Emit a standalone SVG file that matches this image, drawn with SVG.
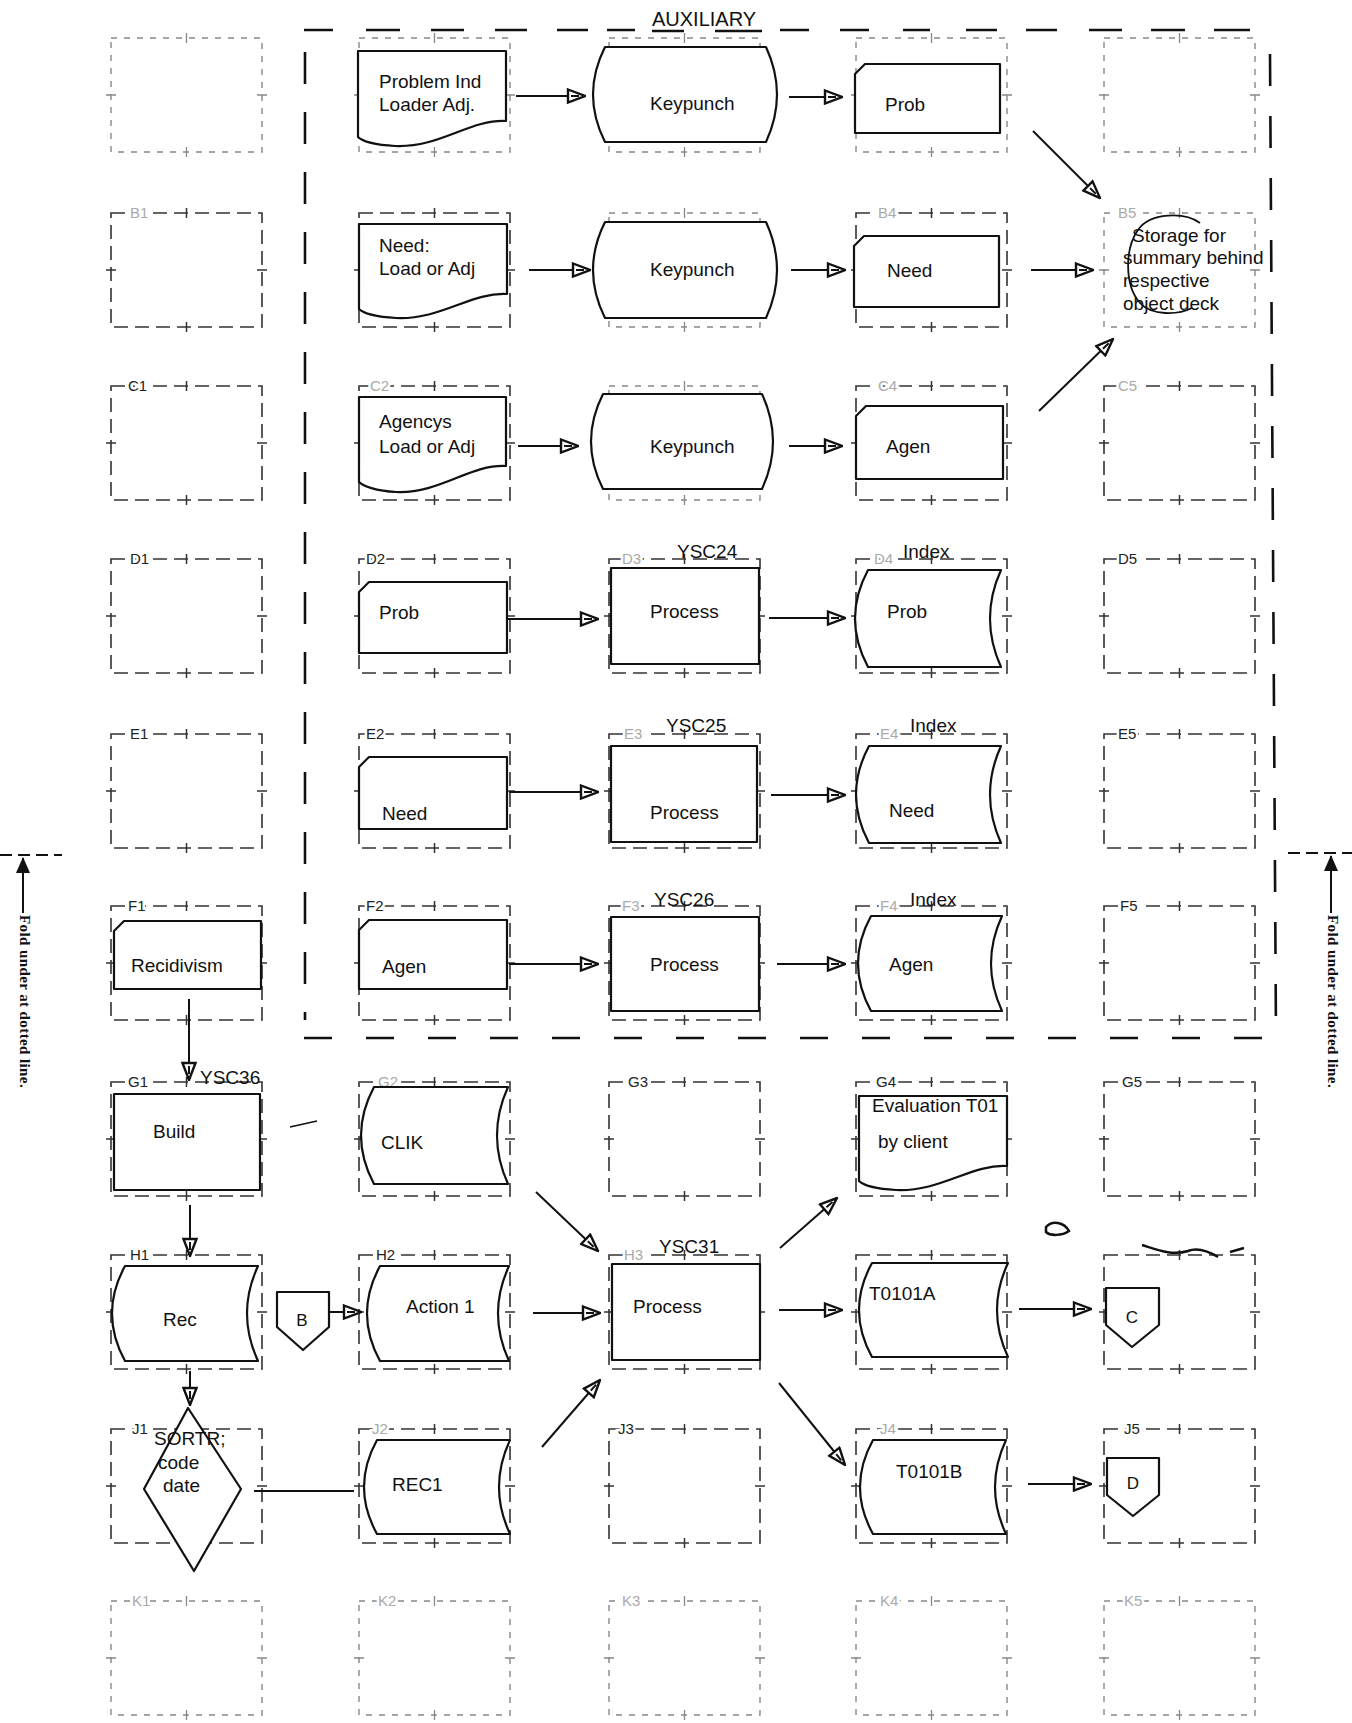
<svg xmlns="http://www.w3.org/2000/svg" width="1352" height="1723" viewBox="0 0 1352 1723">
<style>
.s{fill:#fff;stroke:#111;stroke-width:2.2;stroke-linejoin:round}
.t{font-family:"Liberation Sans",Arial,sans-serif;font-size:19px;fill:#111}
.lb{font-family:"Liberation Sans",Arial,sans-serif;font-size:15px;fill:#222;stroke:#fff;stroke-width:5px;paint-order:stroke}
.lf{font-family:"Liberation Sans",Arial,sans-serif;font-size:15px;fill:#aaa;stroke:#fff;stroke-width:5px;paint-order:stroke}
.gr{fill:none;stroke:#333;stroke-width:1.6;stroke-dasharray:14 7}
.grf{fill:none;stroke:#888;stroke-width:1.4;stroke-dasharray:6 7}
.gt{fill:none;stroke:#333;stroke-width:1.5}
.gtf{fill:none;stroke:#888;stroke-width:1.3}
.c{fill:none;stroke:#111;stroke-width:2;marker-end:url(#ah)}
.cn{fill:none;stroke:#111;stroke-width:2}
.aux{fill:none;stroke:#111;stroke-width:2.6}
.fold{font-family:"Liberation Serif","Times New Roman",serif;font-size:15px;font-weight:bold;fill:#111;letter-spacing:0.4px}
</style>
<defs>
<marker id="ah" viewBox="0 0 20 16" refX="19" refY="8" markerWidth="20" markerHeight="16" markerUnits="userSpaceOnUse" orient="auto">
<path d="M2,1.5 L19,8 L2,14.5 Z" fill="#fff" stroke="#111" stroke-width="2.4" stroke-linejoin="miter"/>
<path d="M5,8 H13" stroke="#111" stroke-width="2"/>
</marker>
<marker id="af" viewBox="0 0 16 14" refX="15" refY="7" markerWidth="16" markerHeight="14" markerUnits="userSpaceOnUse" orient="auto">
<path d="M0,0 L16,7 L0,14 Z" fill="#111"/>
</marker>
<g id="gbox"><rect width="151" height="114" class="gr"/><path class="gt" d="M75.5,-5V5M75.5,109V119M-5,57H5M146,57H156"/></g>
<g id="gboxf"><rect width="151" height="114" class="grf"/><path class="gtf" d="M75.5,-5V5M75.5,109V119M-5,57H5M146,57H156"/></g>
</defs>
<rect width="1352" height="1723" fill="#fff"/>

<g id="grid">
<use href="#gboxf" x="111" y="38"/><use href="#gboxf" x="359" y="38"/><use href="#gboxf" x="609" y="38"/><use href="#gboxf" x="856" y="38"/><use href="#gboxf" x="1104" y="38"/>
<use href="#gbox" x="111" y="213"/><use href="#gbox" x="359" y="213"/><use href="#gboxf" x="609" y="213"/><use href="#gbox" x="856" y="213"/><use href="#gboxf" x="1104" y="213"/>
<use href="#gbox" x="111" y="386"/><use href="#gbox" x="359" y="386"/><use href="#gboxf" x="609" y="386"/><use href="#gbox" x="856" y="386"/><use href="#gbox" x="1104" y="386"/>
<use href="#gbox" x="111" y="559"/><use href="#gbox" x="359" y="559"/><use href="#gbox" x="609" y="559"/><use href="#gbox" x="856" y="559"/><use href="#gbox" x="1104" y="559"/>
<use href="#gbox" x="111" y="734"/><use href="#gbox" x="359" y="734"/><use href="#gbox" x="609" y="734"/><use href="#gbox" x="856" y="734"/><use href="#gbox" x="1104" y="734"/>
<use href="#gbox" x="111" y="906"/><use href="#gbox" x="359" y="906"/><use href="#gbox" x="609" y="906"/><use href="#gbox" x="856" y="906"/><use href="#gbox" x="1104" y="906"/>
<use href="#gbox" x="111" y="1082"/><use href="#gbox" x="359" y="1082"/><use href="#gbox" x="609" y="1082"/><use href="#gbox" x="856" y="1082"/><use href="#gbox" x="1104" y="1082"/>
<use href="#gbox" x="111" y="1255"/><use href="#gbox" x="359" y="1255"/><use href="#gbox" x="609" y="1255"/><use href="#gbox" x="856" y="1255"/><use href="#gbox" x="1104" y="1255"/>
<use href="#gbox" x="111" y="1429"/><use href="#gbox" x="359" y="1429"/><use href="#gbox" x="609" y="1429"/><use href="#gbox" x="856" y="1429"/><use href="#gbox" x="1104" y="1429"/>
<use href="#gboxf" x="111" y="1601"/><use href="#gboxf" x="359" y="1601"/><use href="#gboxf" x="609" y="1601"/><use href="#gboxf" x="856" y="1601"/><use href="#gboxf" x="1104" y="1601"/>
</g>

<g id="grid-labels">
<text class="lf" x="130" y="218">B1</text><text class="lf" x="878" y="218">B4</text><text class="lf" x="1118" y="218">B5</text>
<text class="lb" x="128" y="391">C1</text><text class="lf" x="370" y="391">C2</text><text class="lf" x="878" y="391">C4</text><text class="lf" x="1118" y="391">C5</text>
<text class="lb" x="130" y="564">D1</text><text class="lb" x="366" y="564">D2</text><text class="lf" x="622" y="564">D3</text><text class="lf" x="874" y="564">D4</text><text class="lb" x="1118" y="564">D5</text>
<text class="lb" x="130" y="739">E1</text><text class="lb" x="366" y="739">E2</text><text class="lf" x="624" y="739">E3</text><text class="lf" x="880" y="739">E4</text><text class="lb" x="1118" y="739">E5</text>
<text class="lb" x="128" y="911">F1</text><text class="lb" x="366" y="911">F2</text><text class="lf" x="622" y="911">F3</text><text class="lf" x="880" y="911">F4</text><text class="lb" x="1120" y="911">F5</text>
<text class="lb" x="128" y="1087">G1</text><text class="lf" x="378" y="1087">G2</text><text class="lb" x="628" y="1087">G3</text><text class="lb" x="876" y="1087">G4</text><text class="lb" x="1122" y="1087">G5</text>
<text class="lb" x="130" y="1260">H1</text><text class="lb" x="376" y="1260">H2</text><text class="lf" x="624" y="1260">H3</text>
<text class="lb" x="132" y="1434">J1</text><text class="lf" x="372" y="1434">J2</text><text class="lb" x="618" y="1434">J3</text><text class="lf" x="880" y="1434">J4</text><text class="lb" x="1124" y="1434">J5</text>
<text class="lf" x="132" y="1606">K1</text><text class="lf" x="378" y="1606">K2</text><text class="lf" x="622" y="1606">K3</text><text class="lf" x="880" y="1606">K4</text><text class="lf" x="1124" y="1606">K5</text>
</g>

<g id="auxiliary">
<path class="aux" d="M304,30H333M366,30H400M431,30H464M495,30H527M557,30H588M607,30H635M652,31H684M715,31H762M780,30H809M840,30H869M903,30H930M966,30H997M1026,30H1057M1089,30H1122M1151,30H1185M1214,30H1250"/>
<path class="aux" d="M305,52V1020" stroke-dasharray="32 28"/>
<path class="aux" d="M1270,54L1276,1037" stroke-dasharray="32 30"/>
<path class="aux" d="M304,1038H1277" stroke-dasharray="28 34"/>
<text class="t" x="652" y="26" style="font-size:20px">AUXILIARY</text>
</g>

<g id="fold-left">
<path d="M0,855H62" stroke="#111" stroke-width="2.2" stroke-dasharray="12 6"/>
<path d="M23,913V858" stroke="#111" stroke-width="2" marker-end="url(#af)"/>
<text class="fold" transform="translate(20,915) rotate(90)">Fold under at dotted line.</text>
</g>
<g id="fold-right">
<path d="M1288,853H1352" stroke="#111" stroke-width="2.2" stroke-dasharray="12 6"/>
<path d="M1331,913V856" stroke="#111" stroke-width="2" marker-end="url(#af)"/>
<text class="fold" transform="translate(1328,915) rotate(90)">Fold under at dotted line.</text>
</g>

<g id="connectors">
<path class="c" d="M516,96H585"/>
<path class="c" d="M789,97H842"/>
<path class="c" d="M529,270H590"/>
<path class="c" d="M791,270H845"/>
<path class="c" d="M518,446H578"/>
<path class="c" d="M789,446H842"/>
<path class="c" d="M1033,131L1100,198"/>
<path class="c" d="M1031,270H1093"/>
<path class="c" d="M1039,411L1113,339"/>
<path class="c" d="M504,619H598"/>
<path class="c" d="M769,618H845"/>
<path class="c" d="M509,792H598"/>
<path class="c" d="M771,795H845"/>
<path class="c" d="M509,964H598"/>
<path class="c" d="M777,964H845"/>
<path class="c" d="M189,999V1080"/>
<path class="c" d="M190,1205V1256"/>
<path class="c" d="M190,1371V1405"/>
<path class="c" d="M329,1312H361"/>
<path class="c" d="M533,1313H600"/>
<path class="c" d="M536,1192L598,1251"/>
<path class="c" d="M542,1447L600,1380"/>
<path class="cn" d="M354,1491H254"/>
<path class="c" d="M780,1248L837,1198"/>
<path class="c" d="M779,1310H842"/>
<path class="c" d="M779,1383L845,1465"/>
<path class="c" d="M1019,1309H1091"/>
<path class="c" d="M1028,1484H1091"/>
</g>

<g id="A2"><path class="s" d="M358,51H506V121C470,119 440,148 395,146C375,145 362,141 358,137Z"/><text class="t" x="379" y="88">Problem Ind</text><text class="t" x="379" y="111">Loader Adj.</text></g>
<g id="A3"><path class="s" d="M605,47H766Q788,94.5 766,142H605Q581,94.5 605,47Z"/><text class="t" x="650" y="110">Keypunch</text></g>
<g id="A4"><path class="s" d="M855,74L865,64H1000V133H855Z"/><text class="t" x="885" y="111">Prob</text></g>

<g id="B2"><path class="s" d="M359,224H507V294C471,292 441,320 396,318C376,317 363,313 359,309Z"/><text class="t" x="379" y="252">Need:</text><text class="t" x="379" y="275">Load or Adj</text></g>
<g id="B3"><path class="s" d="M605,222H766Q788,270 766,318H605Q581,270 605,222Z"/><text class="t" x="650" y="276">Keypunch</text></g>
<g id="B4"><path class="s" d="M854,246L864,236H999V307H854Z"/><text class="t" x="887" y="277">Need</text></g>

<g id="C2"><path class="s" d="M359,397H506V466C470,464 440,494 396,492C376,491 363,486 359,482Z"/><text class="t" x="379" y="428">Agencys</text><text class="t" x="379" y="453">Load or Adj</text></g>
<g id="C3"><path class="s" d="M603,394H762Q784,441.5 762,489H603Q579,441.5 603,394Z"/><text class="t" x="650" y="453">Keypunch</text></g>
<g id="C4"><path class="s" d="M856,416L866,406H1003V479H856Z"/><text class="t" x="886" y="453">Agen</text></g>

<g id="B5-storage">
<path d="M1200,223C1185,212 1150,212 1138,230C1125,248 1124,285 1140,303C1152,316 1178,315 1192,308" fill="none" stroke="#111" stroke-width="1.8"/>
<text class="t" x="1132" y="242">Storage for</text>
<text class="t" x="1123" y="264">summary behind</text>
<text class="t" x="1123" y="287">respective</text>
<text class="t" x="1123" y="310">object deck</text>
</g>

<g id="D2"><path class="s" d="M359,592L369,582H507V653H359Z"/><text class="t" x="379" y="619">Prob</text></g>
<g id="D3"><rect class="s" x="611" y="568" width="148" height="96"/><text class="t" x="677" y="558">YSC24</text><text class="t" x="650" y="618">Process</text></g>
<g id="D4"><path class="s" d="M868,570H1001Q979,618.5 1001,667H868Q842,618.5 868,570Z"/><text class="t" x="903" y="558">Index</text><text class="t" x="887" y="618">Prob</text></g>

<g id="E2"><path class="s" d="M359,767L369,757H507V829H359Z"/><text class="t" x="382" y="820">Need</text></g>
<g id="E3"><rect class="s" x="611" y="746" width="146" height="96"/><text class="t" x="666" y="732">YSC25</text><text class="t" x="650" y="819">Process</text></g>
<g id="E4"><path class="s" d="M869,746H1001Q979,794.5 1001,843H869Q843,794.5 869,746Z"/><text class="t" x="910" y="732">Index</text><text class="t" x="889" y="817">Need</text></g>

<g id="F1"><path class="s" d="M114,931L124,921H261V989H114Z"/><text class="t" x="131" y="972">Recidivism</text></g>
<g id="F2"><path class="s" d="M359,930L369,920H507V989H359Z"/><text class="t" x="382" y="973">Agen</text></g>
<g id="F3"><rect class="s" x="611" y="917" width="148" height="94"/><text class="t" x="654" y="906">YSC26</text><text class="t" x="650" y="971">Process</text></g>
<g id="F4"><path class="s" d="M871,916H1002Q980,963.5 1002,1011H871Q845,963.5 871,916Z"/><text class="t" x="910" y="906">Index</text><text class="t" x="889" y="971">Agen</text></g>

<g id="G1"><rect class="s" x="114" y="1094" width="146" height="96"/><text class="t" x="200" y="1084">YSC36</text><text class="t" x="153" y="1138">Build</text></g>
<g id="G2"><path class="s" d="M374,1087H508Q486,1135.5 508,1184H374Q348,1135.5 374,1087Z"/><text class="t" x="381" y="1149">CLIK</text></g>
<g id="G4"><path class="s" d="M859,1096H1007V1166C971,1164 941,1192 896,1190C876,1189 863,1185 859,1181Z"/><text class="t" x="872" y="1112">Evaluation T01</text><text class="t" x="878" y="1148">by client</text></g>

<g id="H1"><path class="s" d="M125,1266H258Q236,1313.5 258,1361H125Q99,1313.5 125,1266Z"/><text class="t" x="163" y="1326">Rec</text></g>
<g id="connector-B"><path class="s" d="M277,1292H329V1327L303,1350L277,1327Z"/><text class="t" x="302" y="1326" text-anchor="middle" style="font-size:17px">B</text></g>
<g id="H2"><path class="s" d="M380,1266H509Q487,1313.5 509,1361H380Q354,1313.5 380,1266Z"/><text class="t" x="406" y="1313">Action 1</text></g>
<g id="H3"><rect class="s" x="612" y="1264" width="148" height="96"/><text class="t" x="659" y="1253">YSC31</text><text class="t" x="633" y="1313">Process</text></g>
<g id="H4"><path class="s" d="M872,1263H1008Q986,1310 1008,1357H872Q846,1310 872,1263Z"/><text class="t" x="869" y="1300">T0101A</text></g>
<g id="connector-C"><path class="s" d="M1106,1288H1159V1325L1132,1347L1106,1325Z"/><text class="t" x="1132" y="1323" text-anchor="middle" style="font-size:17px">C</text></g>

<g id="J1"><path class="s" d="M188,1408L241,1489L194,1571L144,1489Z"/><text class="t" x="154" y="1445">SORTR;</text><text class="t" x="158" y="1469">code</text><text class="t" x="163" y="1492">date</text></g>
<g id="J2"><path class="s" d="M377,1440H510Q488,1487 510,1534H377Q351,1487 377,1440Z"/><text class="t" x="392" y="1491">REC1</text></g>
<g id="J4"><path class="s" d="M873,1440H1006Q984,1487 1006,1534H873Q847,1487 873,1440Z"/><text class="t" x="896" y="1478">T0101B</text></g>
<g id="connector-D"><path class="s" d="M1107,1458H1159V1495L1133,1516L1107,1495Z"/><text class="t" x="1133" y="1489" text-anchor="middle" style="font-size:17px">D</text></g>

<g id="marks" fill="none" stroke="#111">
<path d="M290,1127L317,1121" stroke-width="1.5"/>
<path d="M1046,1227C1052,1220 1064,1222 1069,1231C1062,1236 1050,1236 1046,1232Z" stroke-width="2.5"/>
<path d="M1142,1245C1158,1250 1172,1256 1188,1251C1198,1247 1208,1251 1218,1257M1230,1252L1244,1248" stroke-width="2.5"/>
</g>
</svg>
